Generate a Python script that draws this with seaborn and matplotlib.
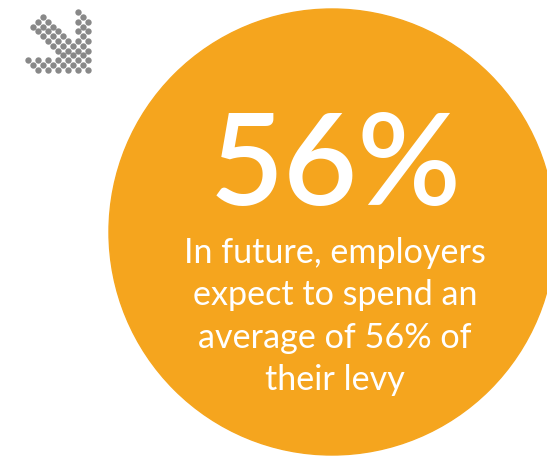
import numpy as np
import pandas as pd
import seaborn as sns
from matplotlib import pyplot as plt
from matplotlib.patches import Circle

# headline figure and the caption underneath it
share_pct = 56
caption_lines = ['In future, employers',
                 'expect to spend an',
                 'average of 56% of',
                 'their levy']

orange = '#F5A51E'
grey = '#888888'

sns.set_theme(style='white')
plt.rcParams['font.family'] = ['Lato', 'DejaVu Sans']

fig = plt.figure(figsize=(5.47, 4.61), dpi=100)
ax = fig.add_axes([0, 0, 1, 1])
ax.set_xlim(0, 547)
ax.set_ylim(461, 0)
ax.set_aspect('equal')
ax.axis('off')

# big orange disc (runs off the right edge)
ax.add_patch(Circle((332, 232), 223, color=orange, zorder=1))

# dotted "down-right" arrow icon, built on a checkerboard lattice
cells = []
for j in range(13):
    for i in range(13):
        if (i + j) % 2:
            continue
        shaft = (j - 2 <= i <= j + 2) and i + j >= 4 and j <= 10
        right_bar = i >= 10 and i - j <= 10
        bottom_bar = j >= 10 and j - i <= 10
        if shaft or right_bar or bottom_bar:
            cells.append((i, j))
dots = pd.DataFrame(cells, columns=['i', 'j'])
dots['x'] = 27.7 + 5.0 * dots['i']
dots['y'] = 12.3 + 4.8 * dots['j']
sns.scatterplot(data=dots, x='x', y='y', ax=ax, color=grey, s=21,
                linewidth=0, legend=False, zorder=2)

# headline
ax.text(336, 169, f'{share_pct}%', color='white', fontsize=92,
        fontweight='semibold', ha='center', va='center', zorder=3)

# caption
for k, line in enumerate(caption_lines):
    ax.text(335, 263 + 42.3 * k, line, color='white', fontsize=24.6,
            ha='center', va='baseline', zorder=3)

plt.savefig('out.png', dpi=100)
